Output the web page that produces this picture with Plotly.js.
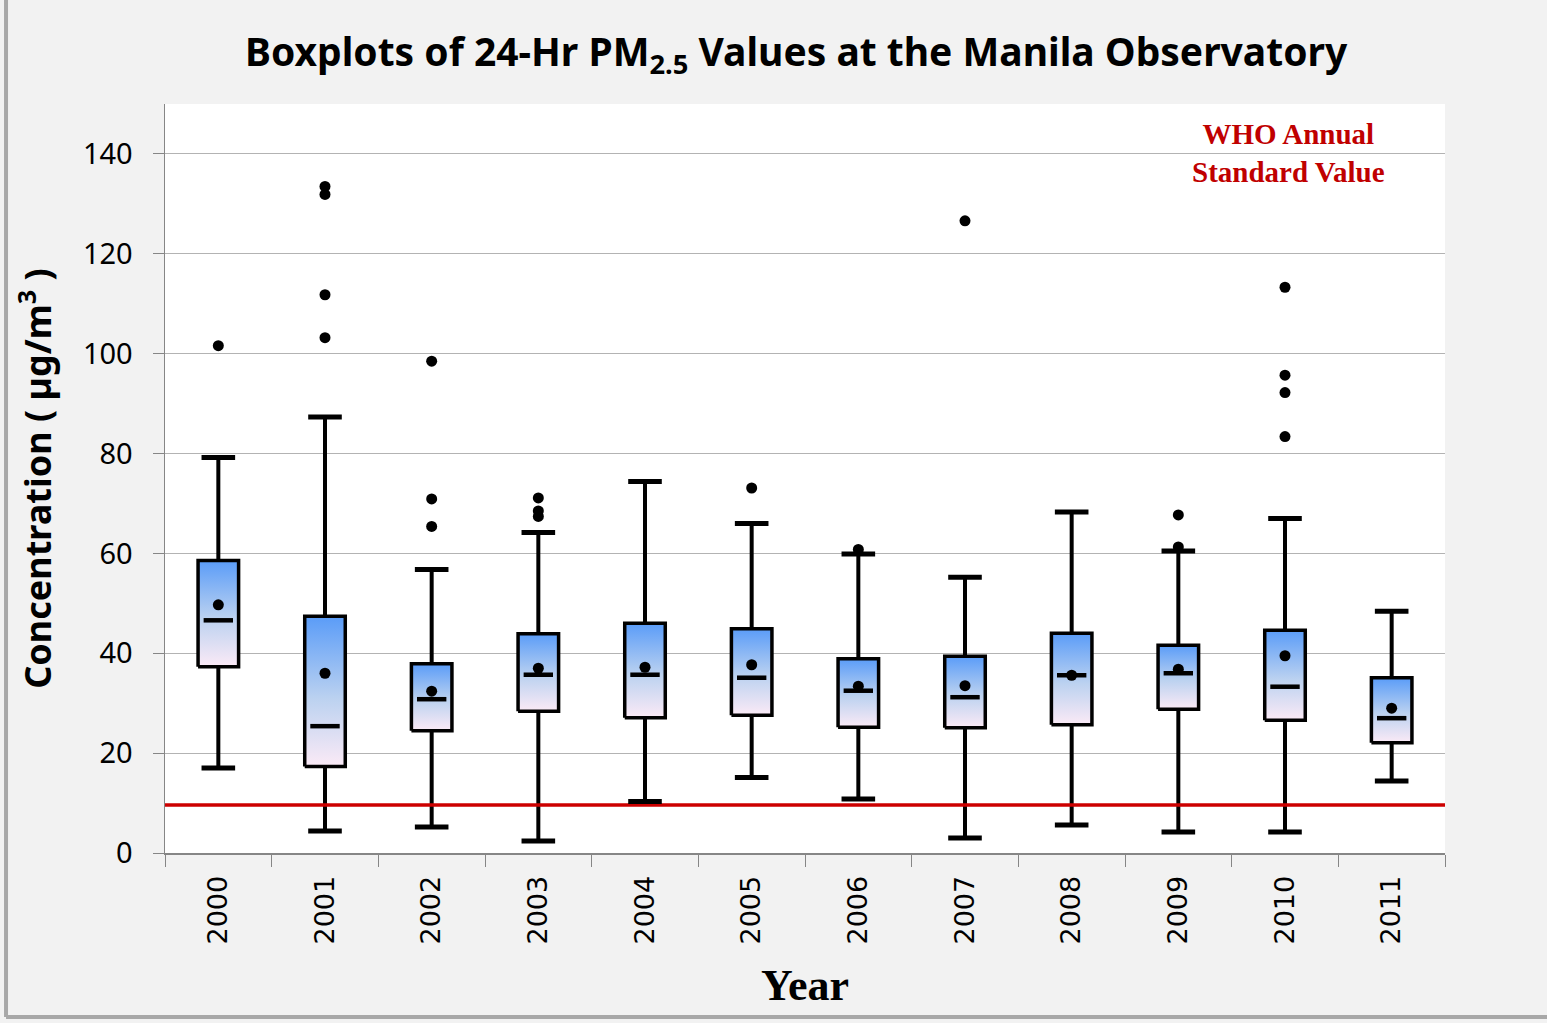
<!DOCTYPE html>
<html><head><meta charset="utf-8">
<script src="https://cdn.plot.ly/plotly-3.0.1.min.js"></script>
<style>html,body{margin:0;padding:0;background:#f2f2f2;}#chart{width:1547px;height:1023px;}</style>
</head><body><div id="chart"></div>
<script>
const years = ['2000','2001','2002','2003','2004','2005','2006','2007','2008','2009','2010','2011'];
const lowerWhisker = [17.0, 4.4, 5.2, 2.4, 10.3, 15.1, 10.8, 3.0, 5.6, 4.2, 4.2, 14.4];
const q1 =           [37.3, 17.3, 24.5, 28.4, 27.1, 27.6, 25.2, 25.1, 25.7, 28.8, 26.6, 22.1];
const median =       [46.6, 25.4, 30.8, 35.7, 35.7, 35.1, 32.5, 31.2, 35.6, 36.0, 33.3, 27.0];
const mean =         [49.7, 36.0, 32.4, 37.0, 37.2, 37.7, 33.4, 33.5, 35.6, 36.8, 39.5, 29.0];
const q3 =           [58.6, 47.4, 37.9, 43.9, 46.0, 44.9, 38.9, 39.4, 44.0, 41.6, 44.6, 35.1];
const upperWhisker = [79.2, 87.3, 56.8, 64.2, 74.4, 66.0, 59.9, 55.2, 68.3, 60.5, 67.0, 48.4];
const outliers = [[101.6],[133.5,131.9,111.8,103.2],[98.5,70.9,65.4],[71.1,68.5,67.4],[],[73.1],[60.8],[126.6],[],[67.7,61.3],[113.3,95.7,92.2,83.4],[]];
const whoStandard = 9.6;
const yTicks = [0,20,40,60,80,100,120,140];

const halfW = 0.19;
const idx = years.map((_, i) => i);
const traces = [];

// gradient boxes
idx.forEach(i => {
  traces.push({
    type: 'scatter', mode: 'lines',
    x: [i - halfW, i + halfW, i + halfW, i - halfW, i - halfW],
    y: [q1[i], q1[i], q3[i], q3[i], q1[i]],
    fill: 'toself',
    fillgradient: {type: 'vertical', colorscale: [[0, '#fbeaf6'], [0.45, '#bcd2f0'], [1, '#5a9cf8']]},
    line: {color: 'black', width: 3.5},
    hoverinfo: 'skip', showlegend: false
  });
});

// whiskers
const wx = [], wy = [];
idx.forEach(i => {
  wx.push(i, i, null, i, i, null);
  wy.push(q3[i], upperWhisker[i], null, lowerWhisker[i], q1[i], null);
});
traces.push({type: 'scatter', mode: 'lines', x: wx, y: wy, line: {color: 'black', width: 4}, hoverinfo: 'skip', showlegend: false});

// WHO line
traces.push({type: 'scatter', mode: 'lines', x: [-0.5, 11.5], y: [whoStandard, whoStandard],
  line: {color: '#cc0000', width: 3.5}, hoverinfo: 'skip', showlegend: false});

// caps
traces.push({type: 'scatter', mode: 'markers', x: idx.concat(idx), y: upperWhisker.concat(lowerWhisker),
  marker: {symbol: 'line-ew', size: 24, line: {color: 'black', width: 5}}, hoverinfo: 'skip', showlegend: false});

// medians
traces.push({type: 'scatter', mode: 'markers', x: idx, y: median,
  marker: {symbol: 'line-ew', size: 21, line: {color: 'black', width: 4.5}}, hoverinfo: 'skip', showlegend: false});

// means
traces.push({type: 'scatter', mode: 'markers', x: idx, y: mean,
  marker: {symbol: 'circle', size: 11, color: 'black'}, hoverinfo: 'skip', showlegend: false});

// outliers
const ox = [], oy = [];
outliers.forEach((arr, i) => arr.forEach(v => { ox.push(i); oy.push(v); }));
traces.push({type: 'scatter', mode: 'markers', x: ox, y: oy,
  marker: {symbol: 'circle', size: 11, color: 'black'}, hoverinfo: 'skip', showlegend: false});

const layout = {
  width: 1547, height: 1023,
  margin: {l: 165, r: 102, t: 104, b: 170},
  paper_bgcolor: '#f2f2f2', plot_bgcolor: '#ffffff',
  showlegend: false,
  title: {
    text: 'Boxplots of 24-Hr PM<sub>2.5</sub> Values at the Manila Observatory',
    font: {family: 'Noto Sans', size: 39, color: '#000', weight: 'bold'},
    xref: 'container', x: 0.5146, xanchor: 'center',
    yref: 'container', y: 0.949, yanchor: 'middle'
  },
  xaxis: {
    range: [-0.5, 11.5], tickmode: 'array', tickvals: idx, ticktext: years,
    ticks: '', tickangle: -90, showgrid: false, zeroline: false,
    ticklabelstandoff: 10,
    tickfont: {family: 'DejaVu Sans', size: 27, color: '#000'},
    showline: true, linecolor: '#868686', linewidth: 2,
    minor: {tickmode: 'linear', tick0: -0.5, dtick: 1, ticks: 'outside', ticklen: 12, tickcolor: '#868686', tickwidth: 1, showgrid: false},
    title: {text: 'Year', font: {family: 'Liberation Serif', size: 44, color: '#000', weight: 'bold'}, standoff: 26}
  },
  yaxis: {
    range: [0, 150], tickmode: 'array', tickvals: yTicks,
    ticks: 'outside', ticklen: 11, tickcolor: '#868686',
    ticklabelstandoff: 14,
    showgrid: true, gridcolor: '#b3b3b3', gridwidth: 1, zeroline: false,
    showline: true, linecolor: '#868686', linewidth: 1.5,
    tickfont: {family: 'Noto Sans', size: 29, color: '#000'},
    title: {text: 'Concentration ( µg/m<sup>3</sup> )', font: {family: 'Noto Sans', size: 36, color: '#000', weight: 'bold'}, standoff: 20}
  },
  annotations: [{
    xref: 'x', yref: 'paper', x: 10.03, y: 0.934, yanchor: 'middle', xanchor: 'center',
    text: 'WHO Annual<br>Standard Value', showarrow: false, align: 'center',
    font: {family: 'Liberation Serif', size: 29, color: '#c00000', weight: 'bold'}
  }],
  shapes: [
    {type: 'line', xref: 'paper', yref: 'paper', x0: -0.1242, x1: -0.1242, y0: 1.142, y1: -0.219, line: {color: '#a8a8a8', width: 4}},
    {type: 'line', xref: 'paper', yref: 'paper', x0: -0.1242, x1: 1.1, y0: -0.219, y1: -0.219, line: {color: '#a8a8a8', width: 4}}
  ]
};

Plotly.newPlot('chart', traces, layout, {displayModeBar: false, staticPlot: true});
</script>
</body></html>
